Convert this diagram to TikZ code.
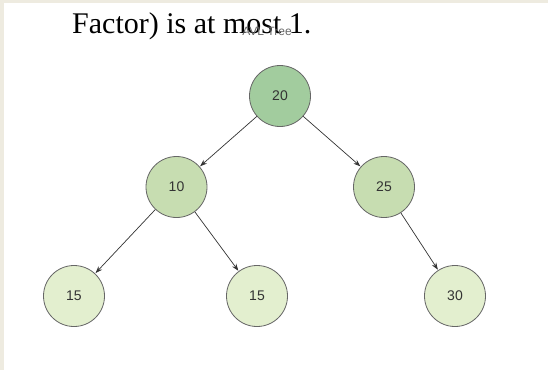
\documentclass[tikz,border=0pt]{standalone}
\usepackage{fontspec}
\setmainfont{Liberation Serif}
\newfontfamily\diagfont{Liberation Sans}
\usetikzlibrary{arrows.meta}
\definecolor{pagebeige}{HTML}{EEEBE0}
\definecolor{rootgreen}{HTML}{A2CC9E}
\definecolor{midgreen}{HTML}{C7DDB1}
\definecolor{leafgreen}{HTML}{E3EFCF}
\definecolor{ringgray}{HTML}{666666}
\definecolor{textgray}{HTML}{333333}
\tikzset{
  treenode/.style={circle, draw=ringgray, line width=0.8pt, minimum size=61pt, inner sep=0pt,
    font=\diagfont\fontsize{14}{15}\selectfont, text=textgray},
  rootnode/.style={treenode, fill=rootgreen},
  midnode/.style={treenode, fill=midgreen},
  leafnode/.style={treenode, fill=leafgreen},
  edge/.style={draw=textgray, line width=0.7pt, -{Stealth[length=7pt,width=5pt]}, shorten >=0.5pt}
}
\begin{document}
\begin{tikzpicture}[x=1pt,y=-1pt]
\useasboundingbox (0,0) rectangle (548,370);
\fill[pagebeige] (0,0) rectangle (548,370);
\fill[white] (4,3) rectangle (548,370);

\node[anchor=base west, inner sep=0pt, font=\fontsize{30}{32}\selectfont] (title) at (72,33) {Factor) is at most 1.};
\node[inner sep=0pt, font=\diagfont\fontsize{12}{13}\selectfont, text=ringgray] (avl) at (267,31) {AVL Tree};

\node[rootnode] (n20) at (280,96) {20};
\node[midnode] (n10) at (176.5,187) {10};
\node[midnode] (n25) at (384,187) {25};
\node[leafnode] (n15a) at (74,296) {15};
\node[leafnode] (n15b) at (257,296) {15};
\node[leafnode] (n30) at (455,296) {30};

\draw[edge] (n20) -- (n10);
\draw[edge] (n20) -- (n25);
\draw[edge] (n10) -- (n15a);
\draw[edge] (n10) -- (n15b);
\draw[edge] (n25) -- (n30);
\end{tikzpicture}
\end{document}
